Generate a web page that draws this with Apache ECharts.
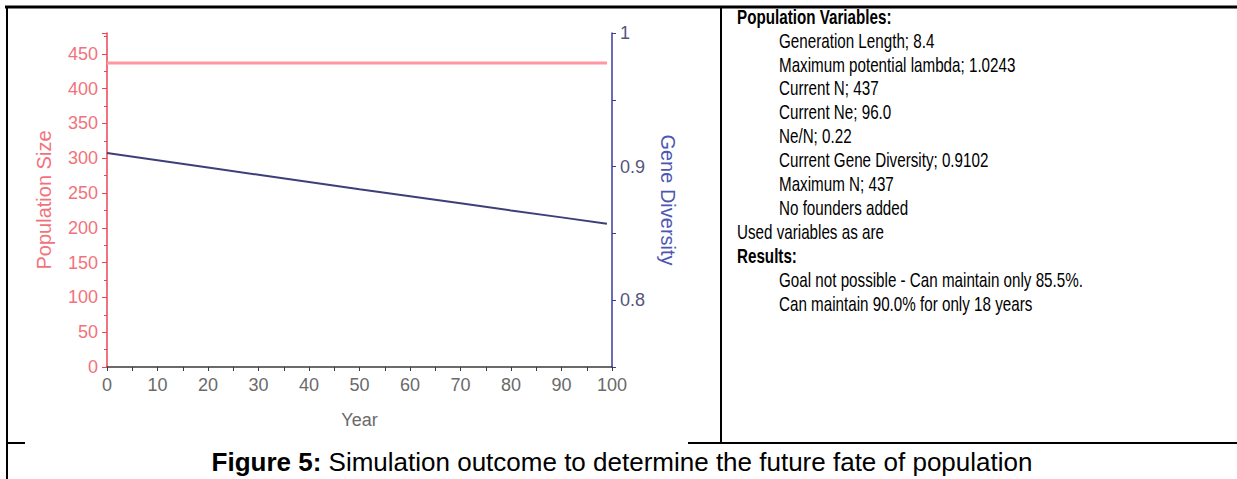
<!DOCTYPE html>
<html>
<head>
<meta charset="utf-8">
<script src="https://cdn.jsdelivr.net/npm/echarts@6/dist/echarts.min.js"></script>
<style>
html,body{margin:0;padding:0;background:#fff;}
#chart{width:1237px;height:479px;}
</style>
</head>
<body>
<div id="chart"></div>
<script>
// ---- data ----
var years = [0, 10, 20, 30, 40, 50, 60, 70, 80, 90, 99];
var populationSize = [437, 437, 437, 437, 437, 437, 437, 437, 437, 437, 437];
var geneDiversity = [0.9102, 0.9047, 0.8993, 0.8939, 0.8885, 0.8831, 0.8778, 0.8725, 0.8672, 0.8620, 0.8573];
var xTicks = [0, 10, 20, 30, 40, 50, 60, 70, 80, 90, 100];
var leftTicks = [0, 50, 100, 150, 200, 250, 300, 350, 400, 450];
var rightTickLabels = ['0.8', '0.9', '1'];

var panelLines = [
  {text: 'Population Variables:', bold: true, indent: 0},
  {text: 'Generation Length; 8.4', indent: 1},
  {text: 'Maximum potential lambda; 1.0243', indent: 1},
  {text: 'Current N; 437', indent: 1},
  {text: 'Current Ne; 96.0', indent: 1},
  {text: 'Ne/N; 0.22', indent: 1},
  {text: 'Current Gene Diversity; 0.9102', indent: 1},
  {text: 'Maximum N; 437', indent: 1},
  {text: 'No founders added', indent: 1},
  {text: 'Used variables as are', indent: 0},
  {text: 'Results:', bold: true, indent: 0},
  {text: 'Goal not possible - Can maintain only 85.5%.', indent: 1},
  {text: 'Can maintain 90.0% for only 18 years', indent: 1}
];
var captionBold = 'Figure 5:';
var captionText = ' Simulation outcome to determine the future fate of population';

// ---- build ----
function zip(xs, ys) { return xs.map(function (x, i) { return [x, ys[i]]; }); }

var SANS = '"Liberation Sans", Arial, sans-serif';

var graphics = [];
// table borders
graphics.push({type: 'line', shape: {x1: 5, y1: 7, x2: 1237, y2: 7}, style: {stroke: '#000', lineWidth: 3}});
graphics.push({type: 'line', shape: {x1: 7, y1: 6, x2: 7, y2: 479}, style: {stroke: '#000', lineWidth: 2}});
graphics.push({type: 'line', shape: {x1: 721, y1: 7, x2: 721, y2: 443}, style: {stroke: '#000', lineWidth: 2}});
graphics.push({type: 'line', shape: {x1: 6, y1: 443, x2: 25, y2: 443}, style: {stroke: '#000', lineWidth: 2}});
graphics.push({type: 'line', shape: {x1: 688, y1: 443, x2: 1237, y2: 443}, style: {stroke: '#000', lineWidth: 2}});

panelLines.forEach(function (ln, i) {
  graphics.push({
    type: 'text',
    x: ln.indent ? 779 : 737,
    y: 17 + i * 23.9,
    scaleX: 0.76,
    style: {
      text: ln.text,
      font: (ln.bold ? 'bold ' : '') + '20px ' + SANS,
      fill: '#000',
      verticalAlign: 'middle'
    }
  });
});

graphics.push({
  type: 'text',
  x: 622, y: 462,
  style: {
    text: '{b|' + captionBold + '}{r|' + captionText + '}',
    align: 'center', verticalAlign: 'middle',
    rich: {
      b: {font: 'bold 26px ' + SANS, fill: '#000'},
      r: {font: '26px ' + SANS, fill: '#000'}
    }
  }
});

var option = {
  backgroundColor: '#fff',
  animation: false,
  grid: {left: 107, top: 33, width: 505, height: 334, containLabel: false, outerBoundsMode: 'none'},
  xAxis: {
    type: 'value', min: 0, max: 100, interval: 10,
    name: 'Year', nameLocation: 'middle', nameGap: 44,
    nameTextStyle: {color: '#6a6a6a', fontSize: 18, fontFamily: SANS},
    axisLine: {show: true, lineStyle: {color: '#3a3a3a', width: 1.5}},
    axisTick: {show: true, length: 4, lineStyle: {color: '#3a3a3a'}},
    minorTick: {show: true, splitNumber: 2, length: 4, lineStyle: {color: '#3a3a3a'}},
    splitLine: {show: false},
    axisLabel: {
      color: '#6a6a6a', fontSize: 18, fontFamily: SANS, margin: 9,
      formatter: function (v) { return xTicks.indexOf(v) >= 0 ? String(v) : ''; }
    }
  },
  yAxis: [{
    type: 'value', min: 0, max: 480, interval: 50, position: 'left',
    name: 'Population Size', nameLocation: 'middle', nameGap: 53,
    nameTextStyle: {color: '#f2727c', fontSize: 20, fontFamily: SANS},
    axisLine: {show: true, lineStyle: {color: '#ec4452', width: 1.5}},
    axisTick: {show: true, length: 5, lineStyle: {color: '#ec4452'}},
    minorTick: {show: true, splitNumber: 2, length: 3, lineStyle: {color: '#ec4452'}},
    splitLine: {show: false},
    axisLabel: {
      color: '#f2727c', fontSize: 18, fontFamily: SANS, margin: 9, showMaxLabel: false,
      formatter: function (v) { return leftTicks.indexOf(v) >= 0 ? String(v) : ''; }
    }
  }, {
    type: 'value', min: 0.75, max: 1, interval: 0.05, position: 'right',
    name: 'Gene Diversity', nameLocation: 'middle', nameGap: 46, nameRotate: -90,
    nameTextStyle: {color: '#4d57b3', fontSize: 20, fontFamily: SANS},
    axisLine: {show: true, lineStyle: {color: '#3a3aa0', width: 1.5}},
    axisTick: {show: true, length: 4, lineStyle: {color: '#3a3aa0'}},
    splitLine: {show: false},
    axisLabel: {
      color: '#55557e', fontSize: 18, fontFamily: SANS, margin: 8,
      formatter: function (v) {
        var s = String(Math.round(v * 100) / 100);
        return rightTickLabels.indexOf(s) >= 0 ? s : '';
      }
    }
  }],
  series: [{
    type: 'line', name: 'Population Size', yAxisIndex: 0,
    data: zip(years, populationSize), showSymbol: false, symbol: 'none',
    lineStyle: {color: '#ff96a0', width: 3}
  }, {
    type: 'line', name: 'Gene Diversity', yAxisIndex: 1,
    data: zip(years, geneDiversity), showSymbol: false, symbol: 'none',
    lineStyle: {color: '#3e3f78', width: 2}
  }],
  graphic: graphics
};

var chart = echarts.init(document.getElementById('chart'), null, {renderer: 'svg'});
chart.setOption(option);
</script>
</body>
</html>
